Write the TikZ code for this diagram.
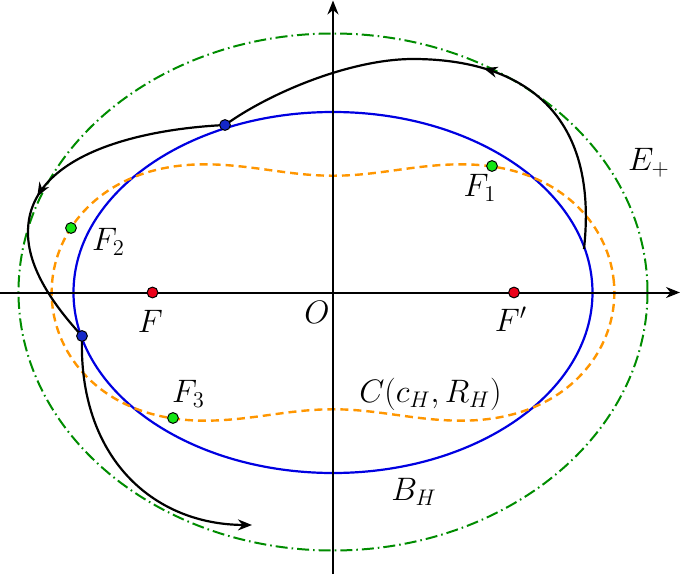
\documentclass[tikz,border=0pt]{standalone}
\usetikzlibrary{arrows.meta,decorations.markings}
\definecolor{myorange}{RGB}{255,150,0}
\definecolor{mygreen}{RGB}{0,140,0}
\definecolor{myblue}{RGB}{0,0,225}
\definecolor{dotred}{RGB}{235,0,25}
\definecolor{dotgreen}{RGB}{20,230,20}
\definecolor{dotblue}{RGB}{20,40,200}
\newcommand{\lab}[1]{\scalebox{0.94}{\LARGE$#1$}}
\tikzset{
  tip/.style={-{Stealth[length=7pt,width=5.5pt]}},
  axisline/.style={line width=1pt,tip},
  bluecurve/.style={myblue,line width=1.1pt},
  greencurve/.style={mygreen,line width=1pt,dash pattern=on 6pt off 2pt on 0.8pt off 2pt},
  orangecurve/.style={myorange,line width=1.2pt,dash pattern=on 4pt off 2.5pt},
  orbit/.style={black,line width=1.1pt},
  midarrow/.style={postaction={decorate},decoration={markings,mark=at position #1 with {\arrow{Stealth[length=7pt,width=5.5pt]}}}},
  dot/.style={circle,draw=black,line width=0.5pt,minimum size=5.4pt,inner sep=0pt},
  lbl/.style={inner sep=0pt},
}
\begin{document}
\begin{tikzpicture}[x=0.5pt,y=0.5pt]
\useasboundingbox (-333,-281.5) rectangle (348,292.5);
% ellipses and oval
\draw[greencurve] (0,0.5) ellipse [x radius=314.5, y radius=258.5];
\draw[bluecurve] (0,0) ellipse [x radius=259.5, y radius=180.5];
\draw[orangecurve] plot[domain=0:358, samples=180, smooth cycle]
  ({181*sqrt(cos(2*\x)+sqrt(2.0059-pow(sin(2*\x),2)))*cos(\x)},
   {181*sqrt(cos(2*\x)+sqrt(2.0059-pow(sin(2*\x),2)))*sin(\x)});
% axes
\coordinate (xl) at (-333,0);
\coordinate (xr) at (347,0);
\coordinate (yb) at (0,-281.5);
\coordinate (yt) at (0,292);
\draw[axisline] (xl) -- (xr);
\draw[axisline] (yb) -- (yt);
% orbit points
\coordinate (S) at (251,43.5);
\coordinate (T) at (80,233.5);
\coordinate (p1) at (-108,167.5);
\coordinate (L) at (-305,59.5);
\coordinate (p2) at (-251,-43.5);
\coordinate (E) at (-81,-232.5);
\draw[orbit,midarrow=0.455] (S) .. controls (268,200) and (165,233.5) .. (T)
   .. controls (20,233.5) and (-60,201.8) .. (p1);
\draw[orbit,midarrow=0.57] (p1) .. controls (-200,163) and (-306,135) .. (L)
   .. controls (-305,20) and (-273,-19.5) .. (p2);
\draw[orbit,tip] (p2) .. controls (-255,-165) and (-180,-232) .. (E);
% dots
\node[dot,fill=dotred] (F) at (-180.5,0) {};
\node[dot,fill=dotred] (Fp) at (181,0) {};
\node[dot,fill=dotgreen] (F1) at (159,126.5) {};
\node[dot,fill=dotgreen] (F2) at (-262,64.5) {};
\node[dot,fill=dotgreen] (F3) at (-160,-125.5) {};
\node[dot,fill=dotblue] (P1) at (p1) {};
\node[dot,fill=dotblue] (P2) at (p2) {};
% labels
\node[lbl] (lE) at (316,129.5) {\lab{E_+}};
\node[lbl] (lF1) at (147,104.5) {\lab{F_1}};
\node[lbl] (lF2) at (-224.5,50.5) {\lab{F_2}};
\node[lbl] (lF) at (-182.5,-28.5) {\lab{F}};
\node[lbl] (lO) at (-16,-19.5) {\lab{O}};
\node[lbl] (lF3) at (-144.5,-101) {\lab{F_3}};
\node[lbl] (lFp) at (178,-26.5) {\lab{F'}};
\node[lbl] (lC) at (97.5,-102) {\lab{C(c_H,R_H)}};
\node[lbl] (lB) at (81,-199.5) {\lab{B_H}};
\end{tikzpicture}
\end{document}
